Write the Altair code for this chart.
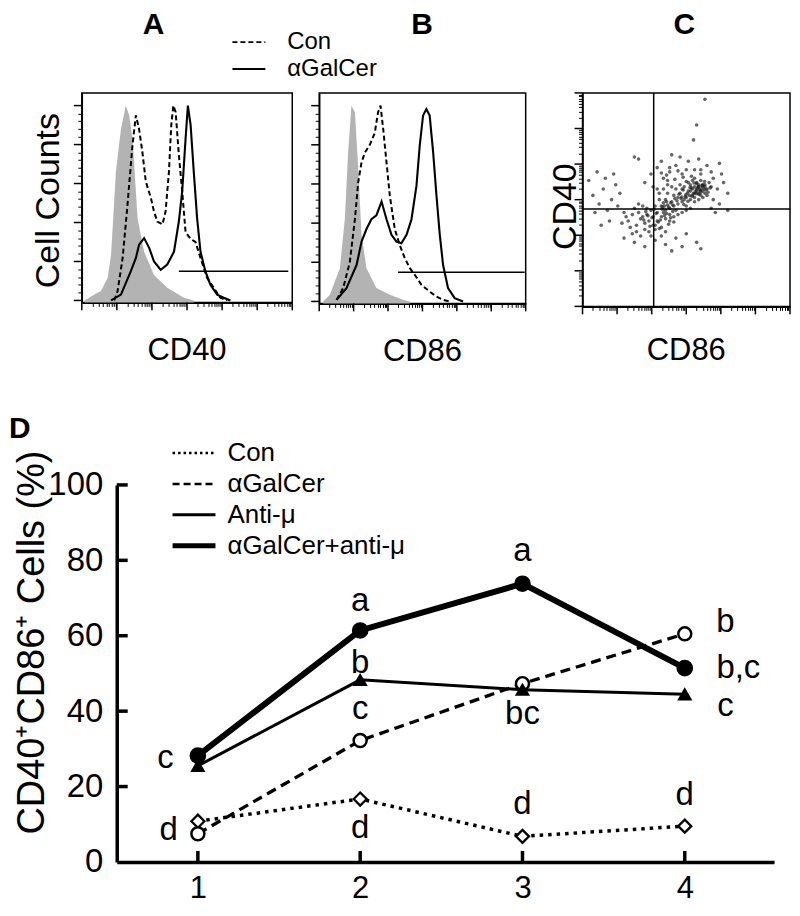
import math
import altair as alt
import pandas as pd

FONT = "Liberation Sans"

# ---------------- Panel A (CD40 histograms); x: % of axis range, y: % of peak ----------
a_iso_x = [1.3, 6.0, 9.1, 12.3, 13.9, 16.2, 18.6, 20.9, 22.5, 24.1, 26.5, 29.6, 34.3, 40.6, 48.5, 53.2]
a_iso_y = [0, 3, 4.8, 11.6, 23.5, 66, 88, 100, 95, 83, 42, 25, 13, 6.5, 1.4, 0]
a_con_x = [15.4, 17.0, 19.4, 21.7, 24.1, 25.7, 27.2, 28.8, 30.4, 32.8, 34.3, 35.9, 38.3, 39.8,
           41.4, 42.5, 43.5, 44.6, 46.1, 47.7, 49.3, 51.7, 54.0, 56.4, 59.5, 62.7, 65.8, 69.0]
a_con_y = [0, 4.8, 21.8, 49, 80, 95, 88, 76, 61, 52.7, 45.6, 40.5, 39, 45.6,
           66, 90, 100, 96.6, 74.8, 56, 35, 31.6, 30, 21.8, 11.6, 6.5, 1.4, 0]
a_gal_x = [13.9, 18.6, 23.3, 25.7, 27.2, 29.6, 32.0, 34.3, 37.5, 40.6, 43.8, 46.1, 47.7, 49.3,
           50.4, 51.7, 53.2, 54.8, 56.4, 58.7, 61.1, 64.3, 67.4, 70.6]
a_gal_y = [0, 3, 15, 21.8, 28.6, 32, 27, 20, 15.7, 18.4, 25, 40.5, 56, 83,
           100, 90, 66, 42, 25, 15, 8, 3, 1.4, 0]
a_gate = [46.1, 98.1, 15]

# ---------------- Panel B (CD86 histograms) ----------------
b_iso_x = [1.9, 5.2, 10.0, 12.4, 14.0, 15.6, 17.3, 18.9, 20.5, 22.9, 27.7, 34.2, 40.6, 43.9]
b_iso_y = [0, 3.4, 17, 42, 76, 100, 96.6, 68, 34, 17, 6.8, 3.4, 0.8, 0]
b_con_x = [8.4, 11.6, 14.8, 17.3, 18.9, 20.5, 22.1, 24.5, 26.9, 28.5, 29.7, 31.0, 32.6, 34.2,
           36.6, 39.0, 41.5, 43.9, 46.3, 49.5, 53.5, 56.8, 60.0, 63.2]
b_con_y = [0.8, 6.8, 20, 42, 61, 71, 76, 80, 86, 96.6, 100, 88, 71, 54,
           37, 28.8, 22, 17, 13.6, 8.5, 5, 2.5, 0.8, 0]
b_gal_x = [8.4, 13.2, 18.1, 20.5, 22.9, 25.3, 27.7, 30.2, 32.6, 35.0, 37.4, 39.8, 42.3, 44.7,
           47.1, 48.7, 50.3, 51.9, 53.5, 55.2, 56.8, 58.4, 60.0, 62.4, 65.6, 69.7]
b_gal_y = [0.8, 6.8, 18.6, 30.5, 37, 42, 44, 51, 42, 34, 30.5, 29.7, 34, 42,
           59, 79.7, 95, 98.3, 95, 76, 54, 34, 18.6, 6.8, 1.7, 0]
b_gate = [38.2, 99.5, 14.9]

# ---------------- Panel C (CD86 vs CD40 dot plot) ----------------
c_x = [36, 38, 40, 42, 44, 46, 48, 50, 52, 54, 56, 58, 55, 57, 59, 53, 51, 49, 47, 45,
       43, 41, 39, 37, 35, 38, 40, 42, 44, 46, 48, 50, 52, 54, 56, 58, 60, 61, 57, 55,
       53, 51, 49, 47, 45, 43, 41, 39, 37, 36, 46, 48, 50, 52, 44, 42, 40, 54, 56, 58,
       59, 60, 62, 55, 53, 57, 59, 56, 54, 52,
       20, 22, 24, 26, 28, 30, 32, 34, 25, 27, 29, 31, 33, 23, 26, 28, 30, 32, 34, 21,
       19, 24, 27, 29, 31, 33, 35, 36, 38, 40,
       30, 33, 36, 39, 42, 45, 48, 51, 54, 57, 60, 63, 47, 43, 38, 34, 41, 50, 56, 62,
       3, 5, 8, 10, 12, 14, 16, 6, 9, 13, 15, 11, 17, 7, 18,
       63, 65, 67, 66, 70, 64, 68, 62, 66, 70,
       25, 30, 35, 40, 45, 50, 55, 38, 48, 20, 57, 43,
       59, 55, 53.5, 25, 27,
       55.5, 56.5, 57.5, 58.5, 54.5, 57, 58, 59.5, 56, 55, 53.5, 52.5, 51.5, 50.5, 49.5,
       48.5, 47.5, 46.5, 45.5, 44.5, 43.5, 42.5, 41.5, 40.5, 39.5, 38.5, 60.5, 61.5, 58.8, 57.8,
       56.8, 55.8, 54.8, 53.8, 52.8, 51.8, 50.8, 49.8, 48.8, 47.8,
       33.5, 35.5, 37.5, 39.5, 41.5, 43.5, 30.5, 32.5, 34.5, 36.5, 38.5, 40.5, 42.5, 29.5, 31.5,
       35, 37, 39, 41, 44,
       40.5, 44.5, 48.5, 52.5, 46, 50, 54, 42, 38, 57]
c_y = [44, 47, 50, 46, 52, 48, 55, 51, 57, 53, 56, 54, 58, 52, 57, 55, 54, 50, 53, 45,
       49, 53, 44, 50, 47, 42, 45, 43, 47, 51, 49, 47, 50, 49, 53, 57, 55, 58, 59, 55,
       59, 58, 56, 57, 55, 56, 57, 55, 53, 55, 43, 44, 45, 46, 42, 40, 41, 51, 50, 51,
       53, 52, 56, 54, 52, 55, 56, 57, 56, 54,
       44, 40, 43, 38, 41, 36, 40, 38, 46, 44, 47, 43, 45, 37, 35, 33, 39, 35, 42, 42,
       39, 34, 48, 42, 46, 33, 36, 40, 37, 35,
       58, 62, 65, 60, 63, 66, 62, 68, 64, 62, 66, 60, 70, 71, 68, 56, 59, 64, 69, 63,
       59, 52, 48, 55, 45, 50, 57, 44, 38, 40, 62, 60, 47, 63, 53,
       50, 55, 62, 48, 45, 44, 58, 46, 67, 53,
       30, 28, 31, 29, 32, 34, 30, 33, 28, 32, 27, 26,
       97, 85, 78, 70, 69,
       55.5, 54.5, 56.5, 55, 54, 53.5, 56, 54.5, 52.5, 57.5, 53, 55.5, 52, 53, 51.5,
       54.5, 50.5, 52.5, 49.5, 50.5, 47.5, 48.5, 46.5, 49, 47, 45.5, 53.5, 55.5, 58.5, 56.8,
       54.2, 56, 52.8, 57.8, 51.6, 55.7, 49.2, 52.3, 47.7, 51.2,
       41.5, 43.5, 40.5, 42.5, 38.5, 44.5, 44.5, 37.5, 45.5, 39.5, 46.5, 43.5, 41.5, 40.5, 42.5,
       38, 36.5, 48.5, 47.5, 39.5,
       61.5, 59.5, 60.5, 61, 63.5, 58.5, 60, 65, 62.5, 64]
c_quad = [34.3, 45.6]

# ---------------- Panel D (line chart) ----------------
d_x = [1, 2, 3, 4]
d_series = ["Con", "\u03b1GalCer", "Anti-\u03bc", "\u03b1GalCer+anti-\u03bc"]
d_con = [10.8, 16.7, 6.8, 9.5]
d_gal = [7.5, 32.2, 47.3, 60.5]
d_anti = [25.5, 48.3, 45.7, 44.5]
d_both = [28.2, 61.4, 73.8, 51.4]
ann_x = [0.80, 0.82, 2.0, 2.0, 2.0, 2.0, 3.0, 3.0, 3.0, 4.25, 4.33, 4.25, 4.0]
ann_y = [24.9, 5.7, 66.6, 50.1, 37.8, 6.4, 79.7, 36.5, 12.6, 61.0, 48.8, 38.6, 15.2]
ann_t = ["c", "d", "a", "b", "c", "d", "a", "bc", "d", "b", "b,c", "c", "d"]
d_yticks = [20, 40, 60, 80, 100]

ONE = pd.DataFrame({"k": [0]})

# log-style tick positions for the flow axes (6 decades across 0-100)
LOG_MINOR = [round((i + math.log10(k)) * 100 / 6, 3) for i in range(6) for k in range(2, 10)]
LOG_MAJOR = [round(i * 100 / 6, 3) for i in range(7)]
LIN_MINOR = [v for v in range(0, 101, 4) if v % 20]
LIN_MAJOR = [0, 20, 40, 60, 80, 100]


def txt(text, x, y, size, **kw):
    params = dict(text=text, fontSize=size, font=FONT, color="black")
    params.update(kw)
    return alt.Chart(ONE).mark_text(**params).encode(x=alt.value(x), y=alt.value(y))


def flow_axes(xs, ys, xmaj, ymaj, w, h):
    xax = alt.Axis(values=LOG_MINOR, labels=False, title=None, tickSize=4, tickColor="black",
                   tickWidth=1, domainColor="black", domainWidth=2, grid=False, orient="bottom")
    yax = alt.Axis(values=ymaj[1], labels=False, title=None, tickSize=4, tickColor="black",
                   tickWidth=1, domainColor="black", domainWidth=1.5, grid=False, orient="left")
    mx = alt.Chart(pd.DataFrame({"v": xmaj})).mark_rule(color="black", strokeWidth=1.5).encode(
        x=alt.X("v:Q", scale=xs, axis=xax), y=alt.value(h), y2=alt.value(h + 8))
    my = alt.Chart(pd.DataFrame({"v": ymaj[0]})).mark_rule(color="black", strokeWidth=1.5).encode(
        y=alt.Y("v:Q", scale=ys, axis=yax), x=alt.value(0), x2=alt.value(-8))
    return xax, yax, [mx, my]


def hist_layers(iso_x, iso_y, con_x, con_y, gal_x, gal_y, gate, w, h, letter, letter_x,
                xlabel, ylabel, legend):
    xs = alt.Scale(domain=[0, 100], nice=False, zero=False)
    ys = alt.Scale(domain=[-1, 106.5], nice=False, zero=False)
    xax, yax, majors = flow_axes(xs, ys, LOG_MAJOR, (LIN_MAJOR, LIN_MINOR), w, h)
    X = alt.X("x:Q", scale=xs, axis=xax)
    Y = alt.Y("y:Q", scale=ys, axis=yax)
    iso = alt.Chart(pd.DataFrame({"x": iso_x, "y": iso_y})).mark_area(
        color="#b3b3b3", opacity=1).encode(x=X, y=Y, y2=alt.datum(-1))
    con = alt.Chart(pd.DataFrame({"x": con_x, "y": con_y})).mark_line(
        color="black", strokeWidth=2, strokeDash=[5, 3]).encode(x=X, y=Y)
    gal = alt.Chart(pd.DataFrame({"x": gal_x, "y": gal_y})).mark_line(
        color="black", strokeWidth=2.1).encode(x=X, y=Y)
    g = alt.Chart(pd.DataFrame({"x1": [gate[0]], "x2": [gate[1]], "y": [gate[2]]})).mark_rule(
        color="black", strokeWidth=1.5).encode(x=alt.X("x1:Q", scale=xs, axis=xax), x2="x2:Q",
                                               y=alt.Y("y:Q", scale=ys, axis=yax))
    layers = [iso, con, gal, g] + majors
    layers.append(txt(letter, letter_x, -59, 30, fontWeight="bold", align="center", baseline="alphabetic"))
    layers.append(txt(xlabel, w / 2, h + 58, 31, align="center", baseline="alphabetic"))
    if ylabel:
        layers.append(txt(ylabel, -33, h / 2 + 3, 34, angle=270, align="center", baseline="middle"))
    if legend:
        for dy, dash, lab in [(-51, [5, 3], "Con"), (-24, None, "\u03b1GalCer")]:
            kw = dict(color="black", strokeWidth=1.8)
            if dash:
                kw["strokeDash"] = dash
            layers.append(alt.Chart(ONE).mark_rule(**kw).encode(
                x=alt.value(151), x2=alt.value(184), y=alt.value(dy)))
            layers.append(txt(lab, 206, dy, 24, align="left", baseline="middle"))
    return alt.layer(*layers)


BOX = alt.ViewBackground(stroke="black", strokeWidth=1.5)
aw, ah = 211, 210
A_core = hist_layers(a_iso_x, a_iso_y, a_con_x, a_con_y, a_gal_x, a_gal_y, a_gate, aw, ah,
                     "A", 72, "CD40", "Cell Counts", True)
B = hist_layers(b_iso_x, b_iso_y, b_con_x, b_con_y, b_gal_x, b_gal_y, b_gate, 207, 211,
                "B", 103, "CD86", None, False).properties(width=207, height=211, view=BOX)

# ---- Panel C ----
cw, ch = 208, 214
cxs = alt.Scale(domain=[0, 100], nice=False, zero=False)
cys = alt.Scale(domain=[0, 100], nice=False, zero=False)
c_xax, c_yax, c_majors = flow_axes(cxs, cys, LOG_MAJOR, (LOG_MAJOR, LOG_MINOR), cw, ch)
c_dots = alt.Chart(pd.DataFrame({"x": c_x, "y": c_y})).mark_circle(
    color="#1e1e1e", size=13, opacity=0.68).encode(
    x=alt.X("x:Q", scale=cxs, axis=c_xax), y=alt.Y("y:Q", scale=cys, axis=c_yax))
c_v = alt.Chart(pd.DataFrame({"v": [c_quad[0]]})).mark_rule(color="black", strokeWidth=1.5).encode(
    x=alt.X("v:Q", scale=cxs, axis=c_xax))
c_h = alt.Chart(pd.DataFrame({"v": [c_quad[1]]})).mark_rule(color="black", strokeWidth=1.5).encode(
    y=alt.Y("v:Q", scale=cys, axis=c_yax))
C = alt.layer(
    c_dots, c_v, c_h, *c_majors,
    txt("C", cw / 2 - 2, -59, 30, fontWeight="bold", align="center", baseline="alphabetic"),
    txt("CD86", cw / 2, ch + 54, 31, align="center", baseline="alphabetic"),
    txt("CD40", -17, ch / 2 + 7, 34, angle=270, align="center", baseline="middle"),
).properties(width=cw, height=ch, view=BOX)

# ---- Panel D: drawn below panel A with its own scales (pixel ranges relative to A) ----
OX, OY = 35, 393          # offset of D's plot area from A's plot area
dw, dh = 659, 378
dxs = alt.Scale(domain=[0.5, 4.55], range=[OX, OX + dw], nice=False, zero=False)
dys = alt.Scale(domain=[0, 100], range=[OY + dh, OY], nice=False, zero=False)
dxax = alt.Axis(values=d_x, title=None, tickSize=0, labelFontSize=31, labelFont=FONT,
                labelColor="black", labelPadding=12, domainColor="black", domainWidth=3.5,
                grid=False, format="d", orient="bottom", offset=OY + dh - ah)
dyax = alt.Axis(values=[0, 20, 40, 60, 80, 100], title=None, tickSize=0, labelFontSize=33,
                labelFont=FONT, labelColor="black", labelPadding=14, domainColor="black",
                domainWidth=3.5, grid=False, format="d", orient="left", offset=-OX)
DX = alt.X("x:Q", scale=dxs, axis=dxax)
DY = alt.Y("y:Q", scale=dys, axis=dyax)

styles = {
    d_series[0]: dict(dash=[3.5, 5], w=3.5, shape="diamond", fill="white", size=170, sw=2.3),
    d_series[1]: dict(dash=[10, 6], w=3.3, shape="circle", fill="white", size=170, sw=2.5),
    d_series[2]: dict(dash=None, w=3, shape="triangle-up", fill="black", size=160, sw=1.5),
    d_series[3]: dict(dash=None, w=6, shape="circle", fill="black", size=230, sw=1.5),
}
values = dict(zip(d_series, [d_con, d_gal, d_anti, d_both]))

d_layers = []
for s in d_series:
    st = styles[s]
    kw = dict(color="black", strokeWidth=st["w"])
    if st["dash"]:
        kw["strokeDash"] = st["dash"]
    d_layers.append(alt.Chart(pd.DataFrame({"x": d_x, "y": values[s]})).mark_line(**kw).encode(x=DX, y=DY))
for s in d_series:
    st = styles[s]
    d_layers.append(alt.Chart(pd.DataFrame({"x": d_x, "y": values[s]})).mark_point(
        shape=st["shape"], filled=True, fill=st["fill"], stroke="black", strokeWidth=st["sw"],
        size=st["size"], opacity=1).encode(x=DX, y=DY))

d_layers.append(alt.Chart(pd.DataFrame({"x": ann_x, "y": ann_y, "t": ann_t})).mark_text(
    font=FONT, fontSize=33, color="black", align="center", baseline="alphabetic").encode(
    x=DX, y=DY, text="t:N"))
d_layers.append(alt.Chart(pd.DataFrame({"v": d_yticks})).mark_rule(color="black", strokeWidth=3.5).encode(
    y=alt.Y("v:Q", scale=dys, axis=dyax), x=alt.value(OX), x2=alt.value(OX + 11)))
d_layers.append(alt.Chart(pd.DataFrame({"v": d_x})).mark_rule(color="black", strokeWidth=3.5).encode(
    x=alt.X("v:Q", scale=dxs, axis=dxax), y=alt.value(OY + dh), y2=alt.value(OY + dh - 11)))

for i, s in enumerate(d_series):
    st = styles[s]
    yy = OY - 32 + 31 * i
    kw = dict(color="black", strokeWidth=min(st["w"], 5))
    if st["dash"]:
        kw["strokeDash"] = [2.5, 3] if i == 0 else [7, 4]
        kw["strokeWidth"] = 2.5
    d_layers.append(alt.Chart(ONE).mark_rule(**kw).encode(
        x=alt.value(OX + 56), x2=alt.value(OX + 99), y=alt.value(yy)))
    d_layers.append(txt(s, OX + 111, yy, 26, align="left", baseline="middle"))

d_layers.append(txt("D", OX - 108, OY - 47, 30, fontWeight="bold", align="left", baseline="alphabetic"))
d_layers.append(txt("CD40\u207aCD86\u207a Cells (%)", OX - 84, OY + 158, 38, angle=270,
                    align="center", baseline="middle"))
D_core = alt.layer(*d_layers)

A = alt.layer(A_core, D_core).resolve_scale(x="independent", y="independent").properties(
    width=aw, height=ah, view=BOX)


def spacer(w):
    return alt.Chart(ONE).mark_point(opacity=0, size=1).encode(
        x=alt.value(0), y=alt.value(0)).properties(width=w, height=1)


chart = alt.hconcat(A, B, spacer(3), C, spacing=27, bounds="flush")
chart = chart.properties(padding=0).configure(font=FONT).configure_view(strokeWidth=0)

chart.save("out.html", embed_options={"renderer": "svg", "actions": False})
